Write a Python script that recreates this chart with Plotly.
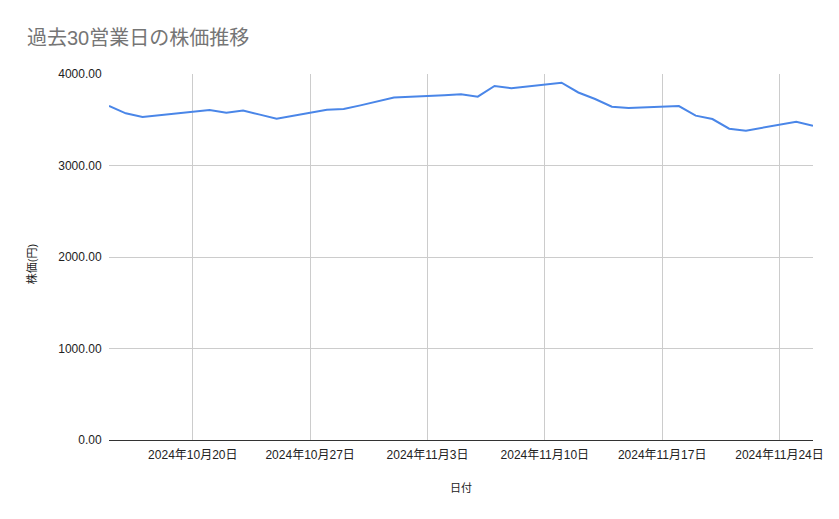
"""
Stock price over the last 30 business days (Google Sheets style line chart).
"""

import plotly.graph_objects as go


# ============================================================
# 1. Data
# ============================================================

dates = [
    "2024-10-15", "2024-10-16", "2024-10-17", "2024-10-18",
    "2024-10-21", "2024-10-22", "2024-10-23", "2024-10-24", "2024-10-25",
    "2024-10-28", "2024-10-29", "2024-10-30", "2024-10-31", "2024-11-01",
    "2024-11-04", "2024-11-05", "2024-11-06", "2024-11-07", "2024-11-08",
    "2024-11-11", "2024-11-12", "2024-11-13", "2024-11-14", "2024-11-15",
    "2024-11-18", "2024-11-19", "2024-11-20", "2024-11-21", "2024-11-22",
    "2024-11-25", "2024-11-26",
]

prices = [
    3650, 3570, 3530, 3548,
    3607, 3577, 3600, 3556, 3512,
    3610, 3617, 3657, 3700, 3743,
    3767, 3778, 3752, 3869, 3844,
    3905, 3798, 3727, 3643, 3628,
    3650, 3545, 3508, 3402, 3380,
    3479, 3435,
]

title_text = "過去30営業日の株価推移"
x_title = "日付"
y_title = "株価(円)"

FONT = "Liberation Sans, Arial, Noto Sans CJK JP, sans-serif"

# The page body keeps its default 8px margin, so the figure is drawn
# 8px smaller than the window to fit inside it.
W, H = 831, 511


# ============================================================
# 2. Figure
# ============================================================

fig = go.Figure()

fig.add_trace(
    go.Scatter(
        x=dates,
        y=prices,
        mode="lines",
        line=dict(color="#4a86e8", width=2),
        name="株価",
        hovertemplate="%{x|%Y年%-m月%-d日}<br>%{y:.2f}<extra></extra>",
    )
)

# y-axis title placed as an annotation (Sheets centres it a little low)
fig.add_annotation(
    text=y_title,
    xref="paper",
    yref="paper",
    x=-0.1098,
    y=0.4795,
    xanchor="center",
    yanchor="middle",
    textangle=-90,
    showarrow=False,
    font=dict(family=FONT, size=11, color="#222222"),
)

fig.update_layout(
    width=W,
    height=H,
    margin=dict(l=101, r=26, t=66, b=79),
    paper_bgcolor="white",
    plot_bgcolor="white",
    showlegend=False,
    font=dict(family=FONT, size=12, color="#222222"),
    title=dict(
        text=title_text,
        x=19 / W,
        xanchor="left",
        xref="container",
        y=1 - 30 / H,
        yanchor="middle",
        font=dict(family=FONT, size=20, color="#757575"),
    ),
)

fig.update_xaxes(
    range=["2024-10-15", "2024-11-26"],
    tick0="2024-10-20",
    dtick=7 * 24 * 3600 * 1000,
    tickformat="%Y年%-m月%-d日",
    tickfont=dict(size=12),
    showgrid=True,
    gridcolor="#cccccc",
    gridwidth=1,
    ticks="outside",
    ticklen=4,
    tickcolor="rgba(0,0,0,0)",
    showline=False,
    zeroline=False,
    title=dict(text=x_title, standoff=22, font=dict(size=11)),
)

fig.update_yaxes(
    range=[0, 4000],
    dtick=1000,
    tickformat=".2f",
    tickfont=dict(size=12),
    showgrid=True,
    gridcolor="#cccccc",
    gridwidth=1,
    zeroline=True,
    zerolinecolor="#333333",
    zerolinewidth=1,
    ticks="outside",
    ticklen=4,
    tickcolor="rgba(0,0,0,0)",
    showline=False,
)

fig.write_html("out.html")
